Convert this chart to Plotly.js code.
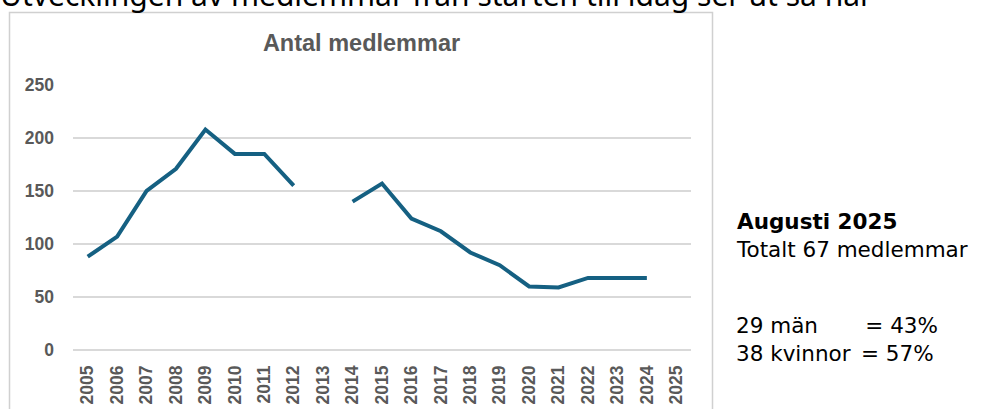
<!DOCTYPE html>
<html>
<head>
<meta charset="utf-8">
<script src="https://cdn.plot.ly/plotly-3.0.1.min.js"></script>
<style>
  html, body { margin: 0; padding: 0; background: #ffffff; }
  #chart { width: 995px; height: 409px; }
</style>
</head>
<body>
<div id="chart"></div>
<script>
// ---- data ----
var years = ["2005","2006","2007","2008","2009","2010","2011","2012","2013","2014","2015",
             "2016","2017","2018","2019","2020","2021","2022","2023","2024","2025"];
var members = [88, 107, 150, 171, 208, 185, 185, 155, null, 140, 157,
               124, 112, 92, 80, 60, 59, 68, 68, 68, null];
var yTicks = [0, 50, 100, 150, 200, 250];

var pageTitle = "Utvecklingen av medlemmar från starten till idag ser ut så här";
var chartTitle = "Antal medlemmar";
var sideHeading = "Augusti 2025";
var sideTotal = "Totalt 67 medlemmar";
var menLabel = "29 män";
var menShare = "= 43%";
var womenLabel = "38 kvinnor";
var womenShare = "= 57%";

// ---- layout geometry (pixels) ----
var W = 995, H = 409;
var L = 73, R = 691, T = 85, B = 350;
function px(x) { return (x - L) / (R - L); }
function py(y) { return (B - y) / (B - T); }

var textFont = "Noto Sans, Open Sans, Liberation Sans, sans-serif";
var axisFont = {family: "Liberation Sans, Arial, sans-serif", size: 17.5, color: "#595959", weight: 700};
var sideFont = {family: "DejaVu Sans, Noto Sans, sans-serif", size: 21.5, color: "#000000"};

var trace = {
  x: years,
  y: members,
  type: "scatter",
  mode: "lines",
  connectgaps: false,
  line: {color: "#156082", width: 4, shape: "linear"},
  hoverinfo: "x+y"
};

var layout = {
  width: W, height: H,
  margin: {l: L, r: W - R, t: T, b: H - B, pad: 0},
  paper_bgcolor: "#ffffff",
  plot_bgcolor: "#ffffff",
  showlegend: false,
  title: {
    text: chartTitle,
    font: {family: "Liberation Sans, Arial, sans-serif", size: 23.5, color: "#595959", weight: 700},
    xref: "paper", x: px(361.5), xanchor: "center",
    yref: "container", y: 1 - 43 / H, yanchor: "middle"
  },
  xaxis: {
    type: "category",
    categoryorder: "array",
    categoryarray: years,
    range: [-0.5, years.length - 0.5],
    tickangle: -90,
    tickfont: axisFont,
    showgrid: false,
    zeroline: false,
    showline: false,
    ticks: "",
    ticklabelstandoff: 11,
    fixedrange: true
  },
  yaxis: {
    range: [0, 250],
    tickvals: yTicks,
    ticktext: yTicks.map(String),
    tickfont: axisFont,
    showgrid: true,
    gridcolor: "#d9d9d9",
    gridwidth: 1.5,
    zeroline: true,
    zerolinecolor: "#d9d9d9",
    zerolinewidth: 1.5,
    showline: false,
    ticks: "",
    ticklabelstandoff: 18,
    fixedrange: true
  },
  shapes: [
    {type: "rect", xref: "paper", yref: "paper",
     x0: px(9.5), x1: px(712.5), y0: py(430), y1: py(12.5),
     line: {color: "#d0d0d0", width: 1.5}, fillcolor: "rgba(0,0,0,0)", layer: "below"}
  ],
  annotations: [
    {text: pageTitle, xref: "paper", yref: "paper", x: px(-2), y: py(17),
     xanchor: "left", yanchor: "bottom", showarrow: false,
     font: {family: textFont, size: 30, color: "#000000"}},
    {text: "<b>" + sideHeading + "</b><br>" + sideTotal, xref: "paper", yref: "paper",
     x: px(734), y: py(264), xanchor: "left", yanchor: "bottom", align: "left",
     showarrow: false, font: sideFont},
    {text: menLabel + "<br>" + womenLabel, xref: "paper", yref: "paper",
     x: px(734), y: py(368), xanchor: "left", yanchor: "bottom", align: "left",
     showarrow: false, font: sideFont},
    {text: "&#8201;" + menShare + "<br>" + womenShare, xref: "paper", yref: "paper",
     x: px(859), y: py(368), xanchor: "left", yanchor: "bottom", align: "left",
     showarrow: false, font: sideFont}
  ]
};

Plotly.newPlot("chart", [trace], layout, {displayModeBar: false, staticPlot: true});
</script>
</body>
</html>
